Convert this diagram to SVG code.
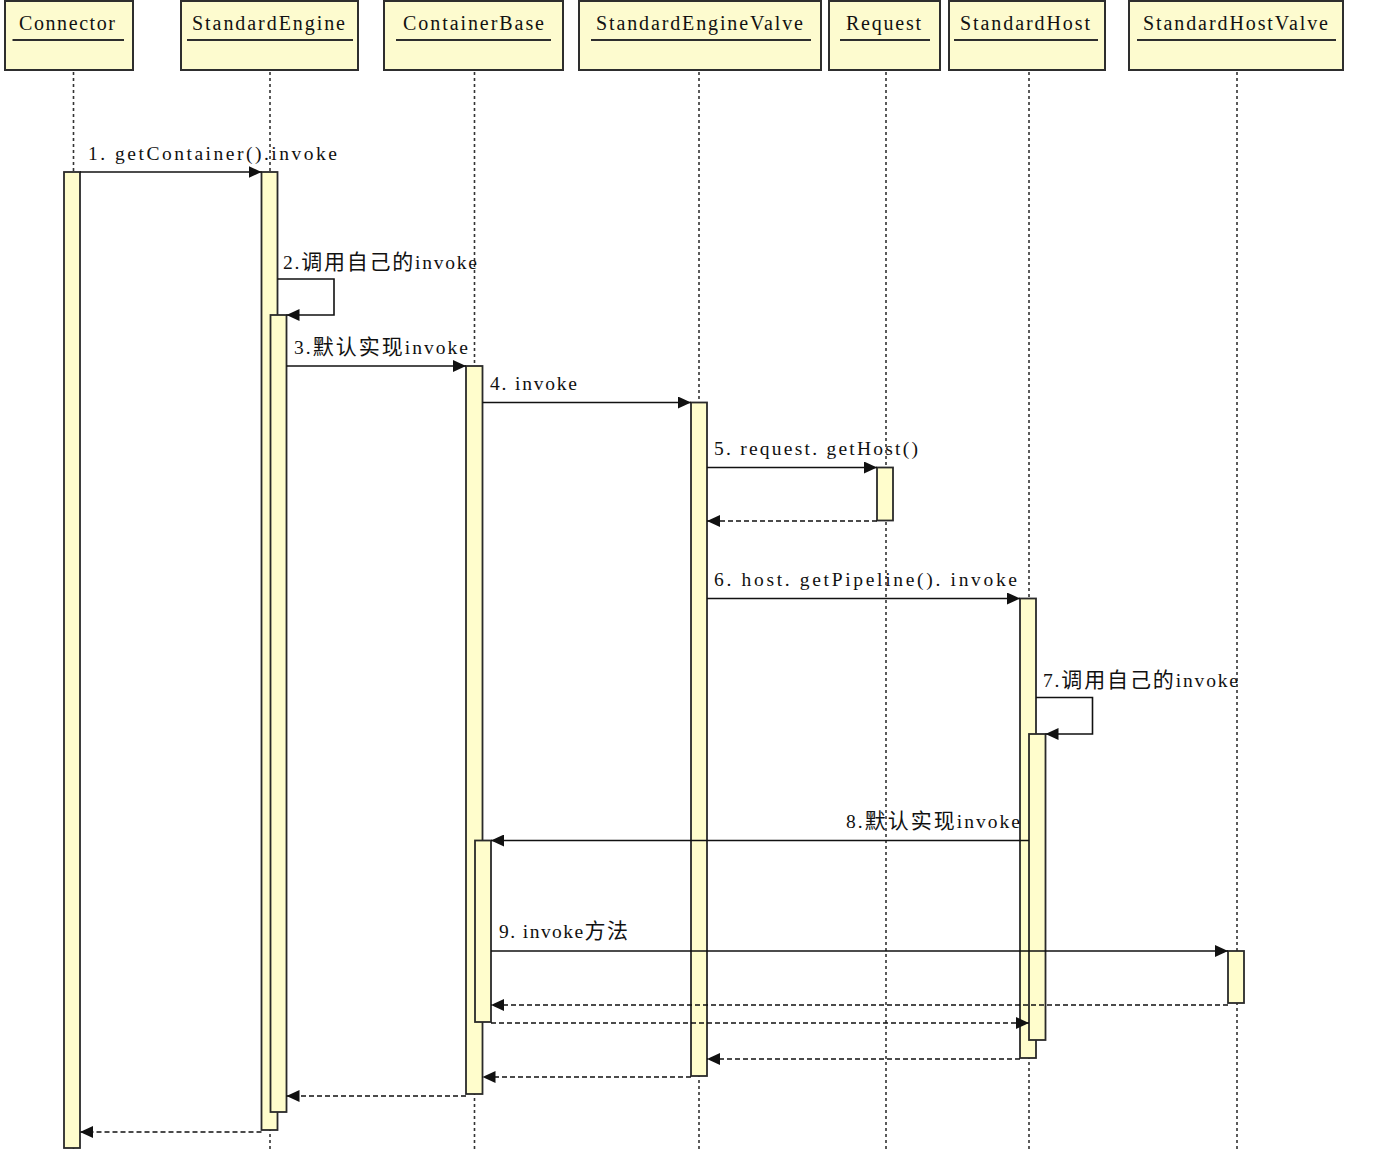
<svg xmlns="http://www.w3.org/2000/svg" width="1394" height="1152" viewBox="0 0 1394 1152">
<style>
.hdr{fill:#fdfbcf;stroke:#2e2e2e;stroke-width:2}
.ul{stroke:#2e2e2e;stroke-width:2}
.life{stroke:#333;stroke-width:1.6;stroke-dasharray:3 3;fill:none}
.act{fill:#fffdcc;stroke:#2a2a2a;stroke-width:1.8}
.t{font-family:'Liberation Serif','Noto Sans CJK SC',serif;font-size:20px;fill:#111}
.m{font-family:'Liberation Serif','Noto Sans CJK SC',serif;font-size:19.5px;fill:#111}
.cjk{font-family:'Noto Sans CJK SC',sans-serif;font-size:21px}
.msg{stroke:#111;stroke-width:1.6;fill:none}
.ret{stroke:#111;stroke-width:1.6;fill:none;stroke-dasharray:5 3}
</style>
<defs>
<marker id="arr" markerUnits="userSpaceOnUse" markerWidth="14" markerHeight="12" refX="13" refY="6" orient="auto">
<path d="M0,0 L13,6 L0,12 Z" fill="#111"/>
</marker>
</defs>
<rect width="1394" height="1152" fill="#ffffff"/>

<g id="Connector">
<line class="life" x1="73.5" y1="72" x2="73.5" y2="1152"/>
<rect class="hdr" x="5" y="1" width="128" height="69"/>
<text class="t" x="67" y="30" text-anchor="middle" textLength="96" lengthAdjust="spacing">Connector</text>
<line class="ul" x1="12.5" y1="40" x2="124" y2="40"/>
<rect class="act" x="64" y="172" width="16" height="976"/>
</g>

<g id="StandardEngine">
<line class="life" x1="270" y1="72" x2="270" y2="1152"/>
<rect class="hdr" x="181" y="1" width="177" height="69"/>
<text class="t" x="268.5" y="30" text-anchor="middle" textLength="153" lengthAdjust="spacing">StandardEngine</text>
<line class="ul" x1="187" y1="40" x2="353" y2="40"/>
<rect class="act" x="261.5" y="172" width="16" height="958"/>
<rect class="act" x="270.5" y="315" width="16" height="797"/>
</g>

<g id="ContainerBase">
<line class="life" x1="474.5" y1="72" x2="474.5" y2="1152"/>
<rect class="hdr" x="384" y="1" width="179" height="69"/>
<text class="t" x="473.5" y="30" text-anchor="middle" textLength="141" lengthAdjust="spacing">ContainerBase</text>
<line class="ul" x1="396" y1="40" x2="551" y2="40"/>
<rect class="act" x="466" y="366" width="16.5" height="728"/>
<rect class="act" x="475" y="840.5" width="16" height="181.5"/>
</g>

<g id="StandardEngineValve">
<line class="life" x1="699" y1="72" x2="699" y2="1152"/>
<rect class="hdr" x="579" y="1" width="242" height="69"/>
<text class="t" x="699.5" y="30" text-anchor="middle" textLength="207" lengthAdjust="spacing">StandardEngineValve</text>
<line class="ul" x1="591" y1="40" x2="811" y2="40"/>
<rect class="act" x="691" y="402.5" width="16" height="673.5"/>
</g>

<g id="Request">
<line class="life" x1="886" y1="72" x2="886" y2="1152"/>
<rect class="hdr" x="829" y="1" width="111" height="69"/>
<text class="t" x="883.5" y="30" text-anchor="middle" textLength="75" lengthAdjust="spacing">Request</text>
<line class="ul" x1="840" y1="40" x2="930" y2="40"/>
<rect class="act" x="877" y="467.5" width="16" height="53"/>
</g>

<g id="StandardHost">
<line class="life" x1="1029" y1="72" x2="1029" y2="1152"/>
<rect class="hdr" x="949" y="1" width="156" height="69"/>
<text class="t" x="1025" y="30" text-anchor="middle" textLength="130" lengthAdjust="spacing">StandardHost</text>
<line class="ul" x1="954" y1="40" x2="1098" y2="40"/>
<rect class="act" x="1020" y="598.5" width="16" height="459.5"/>
<rect class="act" x="1029" y="734" width="16.5" height="306"/>
</g>

<g id="StandardHostValve">
<line class="life" x1="1237" y1="72" x2="1237" y2="1152"/>
<rect class="hdr" x="1129" y="1" width="214" height="69"/>
<text class="t" x="1235.5" y="30" text-anchor="middle" textLength="185" lengthAdjust="spacing">StandardHostValve</text>
<line class="ul" x1="1137" y1="40" x2="1336" y2="40"/>
<rect class="act" x="1228" y="951" width="16" height="52"/>
</g>

<g id="connectors">
<path class="msg" d="M80,172 H261.5" marker-end="url(#arr)"/>
<text class="m" x="88" y="160" textLength="249" lengthAdjust="spacing">1. getContainer().invoke</text>

<path class="msg" d="M277.5,279 H334 V315 H286.5" marker-end="url(#arr)"/>
<text class="m" x="283" y="269" textLength="194" lengthAdjust="spacing">2.<tspan class="cjk">调用自己的</tspan>invoke</text>

<path class="msg" d="M286.5,366 H466" marker-end="url(#arr)"/>
<text class="m" x="294" y="354" textLength="174" lengthAdjust="spacing">3.<tspan class="cjk">默认实现</tspan>invoke</text>

<path class="msg" d="M482.5,402.5 H691" marker-end="url(#arr)"/>
<text class="m" x="490" y="390" textLength="87" lengthAdjust="spacing">4. invoke</text>

<path class="msg" d="M707,467.5 H877" marker-end="url(#arr)"/>
<text class="m" x="714" y="455" textLength="204" lengthAdjust="spacing">5. request. getHost()</text>
<path class="ret" d="M877,521 H707" marker-end="url(#arr)"/>

<path class="msg" d="M707,598.5 H1020" marker-end="url(#arr)"/>
<text class="m" x="714" y="586" textLength="303" lengthAdjust="spacing">6.  host. getPipeline(). invoke</text>

<path class="msg" d="M1036,697.5 H1092.5 V734 H1045.5" marker-end="url(#arr)"/>
<text class="m" x="1043" y="687" textLength="195" lengthAdjust="spacing">7.<tspan class="cjk">调用自己的</tspan>invoke</text>

<path class="msg" d="M1029,840.5 H491" marker-end="url(#arr)"/>
<text class="m" x="846" y="828" textLength="174" lengthAdjust="spacing">8.<tspan class="cjk">默认实现</tspan>invoke</text>

<path class="msg" d="M491,951 H1228" marker-end="url(#arr)"/>
<text class="m" x="499" y="938" textLength="129" lengthAdjust="spacing">9. invoke<tspan class="cjk">方法</tspan></text>

<path class="ret" d="M1228,1005 H491" marker-end="url(#arr)"/>
<path class="ret" d="M491,1023 H1029" marker-end="url(#arr)"/>
<path class="ret" d="M1020,1059 H707" marker-end="url(#arr)"/>
<path class="ret" d="M691,1077 H482.5" marker-end="url(#arr)"/>
<path class="ret" d="M466,1096 H286.5" marker-end="url(#arr)"/>
<path class="ret" d="M261.5,1132 H80" marker-end="url(#arr)"/>
</g>
</svg>
